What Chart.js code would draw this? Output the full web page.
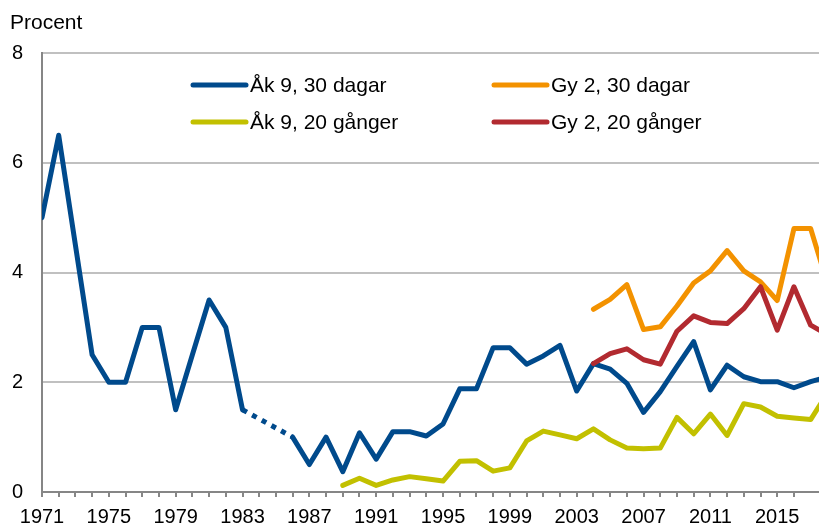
<!DOCTYPE html>
<html lang="sv">
<head>
<meta charset="utf-8">
<script src="https://cdn.jsdelivr.net/npm/chart.js@4/dist/chart.umd.min.js"></script>
<style>
  html, body { margin: 0; padding: 0; background: #fff; overflow: hidden; }
</style>
</head>
<body>
<canvas id="chart" width="819" height="526"></canvas>
<script>
// Data (procent), one array per series, starting at its first year
const ak9DagarStart = 1971;
const ak9Dagar = [5.0, 6.5, 4.5, 2.5, 2.0, 2.0, 3.0, 3.0, 1.5, 2.5, 3.5, 3.0, 1.5, null, null, 1.0,
  0.5, 1.0, 0.37, 1.08, 0.6, 1.1, 1.1, 1.02, 1.24, 1.88, 1.88, 2.63, 2.63, 2.33, 2.48, 2.67,
  1.84, 2.34, 2.24, 1.98, 1.45, 1.83, 2.29, 2.74, 1.86, 2.31, 2.1, 2.01, 2.01, 1.9, 2.01, 2.1];

const ak9GangerStart = 1989;
const ak9Ganger = [0.12, 0.25, 0.12, 0.22, 0.28, 0.24, 0.2, 0.56, 0.57, 0.38, 0.44, 0.93, 1.11,
  1.04, 0.97, 1.15, 0.95, 0.8, 0.79, 0.8, 1.36, 1.06, 1.42, 1.03, 1.61, 1.55, 1.38, 1.35, 1.32, 1.8];

const gy2DagarStart = 2004;
const gy2Dagar = [3.33, 3.51, 3.78, 2.96, 3.01, 3.39, 3.81, 4.03, 4.4, 4.03, 3.83, 3.49, 4.8, 4.8, 3.8];

const gy2GangerStart = 2004;
const gy2Ganger = [2.34, 2.52, 2.61, 2.41, 2.33, 2.93, 3.21, 3.09, 3.07, 3.34, 3.74, 2.95, 3.74, 3.04, 2.87];

const firstYear = 1971;
const labelStep = 4;
const yTicks = [0, 2, 4, 6, 8];

const toPoints = (start, values) => values.map((v, i) => ({ x: start + i, y: v }));

// dotted where the series has missing years
const gapDash = ctx => (ctx.p0.skip || ctx.p1.skip) ? [5, 6] : undefined;
const gapCap = ctx => (ctx.p0.skip || ctx.p1.skip) ? 'butt' : undefined;

const font = { family: "'Liberation Sans', Arial, sans-serif", size: 20 };
const gridGray = '#c0c0c0';
const axisGray = '#868686';

// Legend drawn inside the plot, 2 x 2
const legendPos = [
  { x: 193, y: 85 },   // Åk 9, 30 dagar
  { x: 494, y: 85 },   // Gy 2, 30 dagar
  { x: 193, y: 122 },  // Åk 9, 20 gånger
  { x: 494, y: 122 }   // Gy 2, 20 gånger
];

const insideLegend = {
  id: 'insideLegend',
  afterDraw(chart) {
    const ctx = chart.ctx;
    ctx.save();
    ctx.font = "21px 'Liberation Sans', Arial, sans-serif";
    ctx.textBaseline = 'middle';
    ctx.fillStyle = '#000';
    chart.data.datasets.forEach((ds, i) => {
      const p = legendPos[i];
      ctx.strokeStyle = ds.borderColor;
      ctx.lineWidth = 5;
      ctx.lineCap = 'round';
      ctx.beginPath();
      ctx.moveTo(p.x, p.y);
      ctx.lineTo(p.x + 53, p.y);
      ctx.stroke();
      ctx.fillText(ds.label, p.x + 57, p.y + 1);
    });
    // axis title
    ctx.textBaseline = 'alphabetic';
    ctx.fillText('Procent', 10, 29);
    ctx.restore();
  }
};

new Chart(document.getElementById('chart'), {
  type: 'line',
  data: {
    datasets: [{
      label: 'Åk 9, 30 dagar',
      data: toPoints(ak9DagarStart, ak9Dagar),
      borderColor: '#004a8c',
      spanGaps: true,
      segment: { borderDash: gapDash, borderCapStyle: gapCap },
      order: 2
    }, {
      label: 'Gy 2, 30 dagar',
      data: toPoints(gy2DagarStart, gy2Dagar),
      borderColor: '#f39200',
      order: 3
    }, {
      label: 'Åk 9, 20 gånger',
      data: toPoints(ak9GangerStart, ak9Ganger),
      borderColor: '#c2c000',
      order: 4
    }, {
      label: 'Gy 2, 20 gånger',
      data: toPoints(gy2GangerStart, gy2Ganger),
      borderColor: '#b22a30',
      order: 1
    }]
  },
  options: {
    responsive: false,
    animation: false,
    events: [],
    layout: { padding: { top: 53, right: 0, bottom: 0, left: 0 } },
    elements: {
      line: { borderWidth: 5, borderJoinStyle: 'round', borderCapStyle: 'round', tension: 0 },
      point: { radius: 0 }
    },
    plugins: {
      legend: { display: false },
      tooltip: { enabled: false }
    },
    scales: {
      x: {
        type: 'linear',
        min: firstYear,
        max: 2017.5,
        afterBuildTicks: s => { s.ticks = s.ticks.filter(t => Number.isInteger(t.value)); },
        afterFit: s => { s.height = 34; },
        ticks: {
          stepSize: 1,
          autoSkip: false,
          maxRotation: 0,
          padding: 8,
          color: '#000',
          font,
          callback: v => ((v - firstYear) % labelStep === 0 ? String(v) : '')
        },
        grid: { drawOnChartArea: false, drawTicks: true, tickLength: 5, color: axisGray, lineWidth: 2 },
        border: { color: axisGray, width: 2 }
      },
      y: {
        min: 0,
        max: 8,
        afterBuildTicks: s => { s.ticks = yTicks.map(v => ({ value: v })); },
        afterFit: s => { s.width = 42; },
        ticks: { padding: 19, color: '#000', font },
        grid: { color: gridGray, lineWidth: 2, drawTicks: false },
        border: { color: axisGray, width: 2 }
      }
    }
  },
  plugins: [insideLegend]
});
</script>
</body>
</html>
